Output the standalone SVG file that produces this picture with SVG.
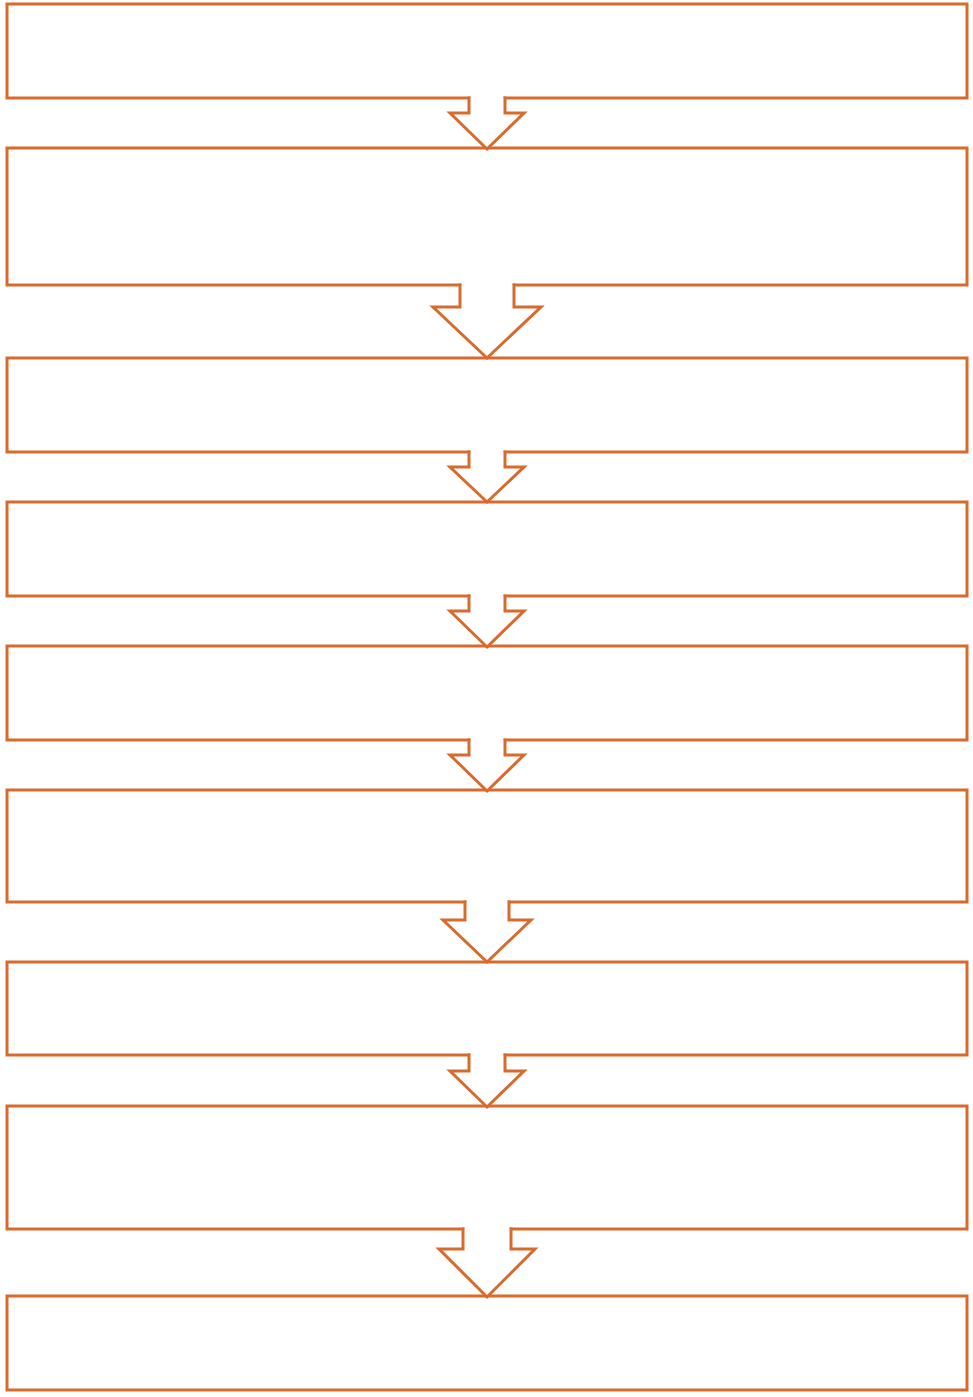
<svg xmlns="http://www.w3.org/2000/svg" width="973" height="1397" viewBox="0 0 973 1397">
<style>
.box{fill:#ffffff;stroke:#D86B2C;stroke-width:3;stroke-linejoin:miter}
.arr{fill:#ffffff;stroke:#D86B2C;stroke-width:3;stroke-linejoin:miter;stroke-linecap:square}
.gap{fill:#ffffff;stroke:none}
</style>
<rect width="973" height="1397" fill="#ffffff"/>
<g id="nodes">
<g id="node1"><rect class="box" x="7" y="4" width="960" height="94"/></g>
<g id="node2"><rect class="box" x="7" y="148" width="960" height="137"/></g>
<g id="node3"><rect class="box" x="7" y="358" width="960" height="94"/></g>
<g id="node4"><rect class="box" x="7" y="502" width="960" height="94"/></g>
<g id="node5"><rect class="box" x="7" y="646" width="960" height="94"/></g>
<g id="node6"><rect class="box" x="7" y="790" width="960" height="112"/></g>
<g id="node7"><rect class="box" x="7" y="962" width="960" height="93"/></g>
<g id="node8"><rect class="box" x="7" y="1106" width="960" height="123"/></g>
<g id="node9"><rect class="box" x="7" y="1296" width="960" height="94"/></g>
</g>
<g id="connectors">
<rect class="gap" x="470.5" y="96" width="33" height="4"/>
<path class="arr" d="M469,98 V113 H450 L487,149 L524,113 H505 V98"/>
<rect class="gap" x="461.5" y="283" width="51" height="4"/>
<path class="arr" d="M460,285 V307 H433 L487,358 L541,307 H514 V285"/>
<rect class="gap" x="470.5" y="450" width="33" height="4"/>
<path class="arr" d="M469,452 V467 H450 L487,502 L524,467 H505 V452"/>
<rect class="gap" x="470.5" y="594" width="33" height="4"/>
<path class="arr" d="M469,596 V611 H450 L487,647 L524,611 H505 V596"/>
<rect class="gap" x="470.5" y="738" width="33" height="4"/>
<path class="arr" d="M469,740 V755 H450 L487,791 L524,755 H505 V740"/>
<rect class="gap" x="466.5" y="900" width="41" height="4"/>
<path class="arr" d="M465,902 V920 H443 L487,962 L531,920 H509 V902"/>
<rect class="gap" x="470.5" y="1053" width="33" height="4"/>
<path class="arr" d="M469,1055 V1071 H450 L487,1107 L524,1071 H505 V1055"/>
<rect class="gap" x="464.5" y="1227" width="45" height="4"/>
<path class="arr" d="M463,1229 V1249 H439 L487,1297 L535,1249 H511 V1229"/>
</g>
</svg>
